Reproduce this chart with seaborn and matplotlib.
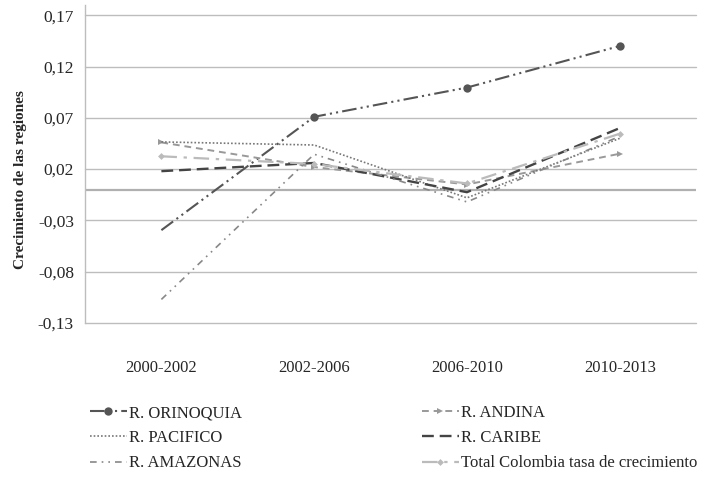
import pandas as pd
import matplotlib.pyplot as plt
import seaborn as sns

periodos = ['2000-2002', '2002-2006', '2006-2010', '2010-2013']

orinoquia = [-0.0395, 0.0710, 0.0995, 0.1400]
andina = [0.0460, 0.0220, 0.0050, 0.0350]
pacifico = [0.0465, 0.0435, -0.0080, 0.0500]
caribe = [0.0180, 0.0260, -0.0025, 0.0600]
amazonas = [-0.1070, 0.0345, -0.0120, 0.0520]
total = [0.0325, 0.0250, 0.0060, 0.0545]

y_ticks = [-0.13, -0.08, -0.03, 0.02, 0.07, 0.12, 0.17]

series = {
    'R. ORINOQUIA': orinoquia,
    'R. ANDINA': andina,
    'R. PACIFICO': pacifico,
    'R. CARIBE': caribe,
    'R. AMAZONAS': amazonas,
    'Total Colombia tasa de crecimiento': total,
}

# style per series: color, dash pattern, width, marker, which points get a marker
styles = {
    'R. ORINOQUIA': dict(color='#555555', ls=(0, (7, 2, 1, 2, 1, 2)), lw=1.5, marker='o', ms=6, every=[1, 2, 3]),
    'R. ANDINA': dict(color='#999999', ls=(0, (3.5, 2.5)), lw=1.4, marker='>', ms=5, every=[0, 1, 2, 3]),
    'R. PACIFICO': dict(color='#777777', ls=(0, (1, 1.2)), lw=1.2, marker=None, ms=0, every=None),
    'R. CARIBE': dict(color='#444444', ls=(0, (5, 2.5)), lw=1.7, marker=None, ms=0, every=None),
    'R. AMAZONAS': dict(color='#888888', ls=(0, (4, 3, 1, 3, 1, 3)), lw=1.2, marker=None, ms=0, every=None),
    'Total Colombia tasa de crecimiento': dict(color='#bbbbbb', ls=(0, (7, 3, 1.5, 3)), lw=1.6, marker='D', ms=3.5, every=[0, 1, 2, 3]),
}

df = pd.DataFrame([
    {'periodo': p, 'x': i, 'region': name, 'valor': v}
    for name, vals in series.items()
    for i, (p, v) in enumerate(zip(periodos, vals))
])

sns.set_theme(style='white')
plt.rcParams['font.family'] = ['Liberation Serif', 'DejaVu Serif']

fig = plt.figure(figsize=(7.06, 4.79), dpi=100)
ax = fig.add_axes([0.1204, 0.3257, 0.8656, 0.6639])

for y in y_ticks:
    ax.axhline(y, color='#bdbdbd', lw=1.0, zorder=0, clip_on=False)
ax.axhline(0, color='#b0b0b0', lw=1.6, zorder=0)

for name in series:
    st = styles[name]
    sub = df[df['region'] == name]
    sns.lineplot(data=sub, x='x', y='valor', ax=ax, color=st['color'], lw=st['lw'],
                 linestyle=st['ls'], marker=st['marker'], markersize=st['ms'],
                 markevery=st['every'], markeredgewidth=0, label=name, sort=False)

ax.set_xlim(-0.5, 3.5)
ax.set_ylim(-0.13, 0.18)
ax.set_yticks(y_ticks)
ax.set_yticklabels([f'{t:.2f}'.replace('.', ',') for t in y_ticks], fontsize=12.5)
ax.set_xticks(range(len(periodos)))
ax.set_xticklabels(periodos, fontsize=12)
ax.tick_params(axis='x', length=0, pad=27)
ax.tick_params(axis='y', length=0, pad=8)
ax.set_xlabel('')
ax.set_ylabel('Crecimiento de las regiones', fontsize=11, fontweight='bold')
ax.yaxis.set_label_coords(-0.095, 0.45)

for side in ['top', 'right', 'bottom']:
    ax.spines[side].set_visible(False)
ax.spines['left'].set_color('#bdbdbd')
ax.spines['left'].set_linewidth(1.0)

handles, labels = ax.get_legend_handles_labels()
order = [0, 2, 4, 1, 3, 5]
leg = ax.legend([handles[i] for i in order], [labels[i] for i in order],
                ncol=2, loc='upper left', bbox_to_anchor=(-0.003, -0.237),
                frameon=False, fontsize=12, handlelength=2.2, handletextpad=0.15,
                columnspacing=10.8, labelspacing=0.55, borderaxespad=0)

fig.savefig('out.png', dpi=100)
